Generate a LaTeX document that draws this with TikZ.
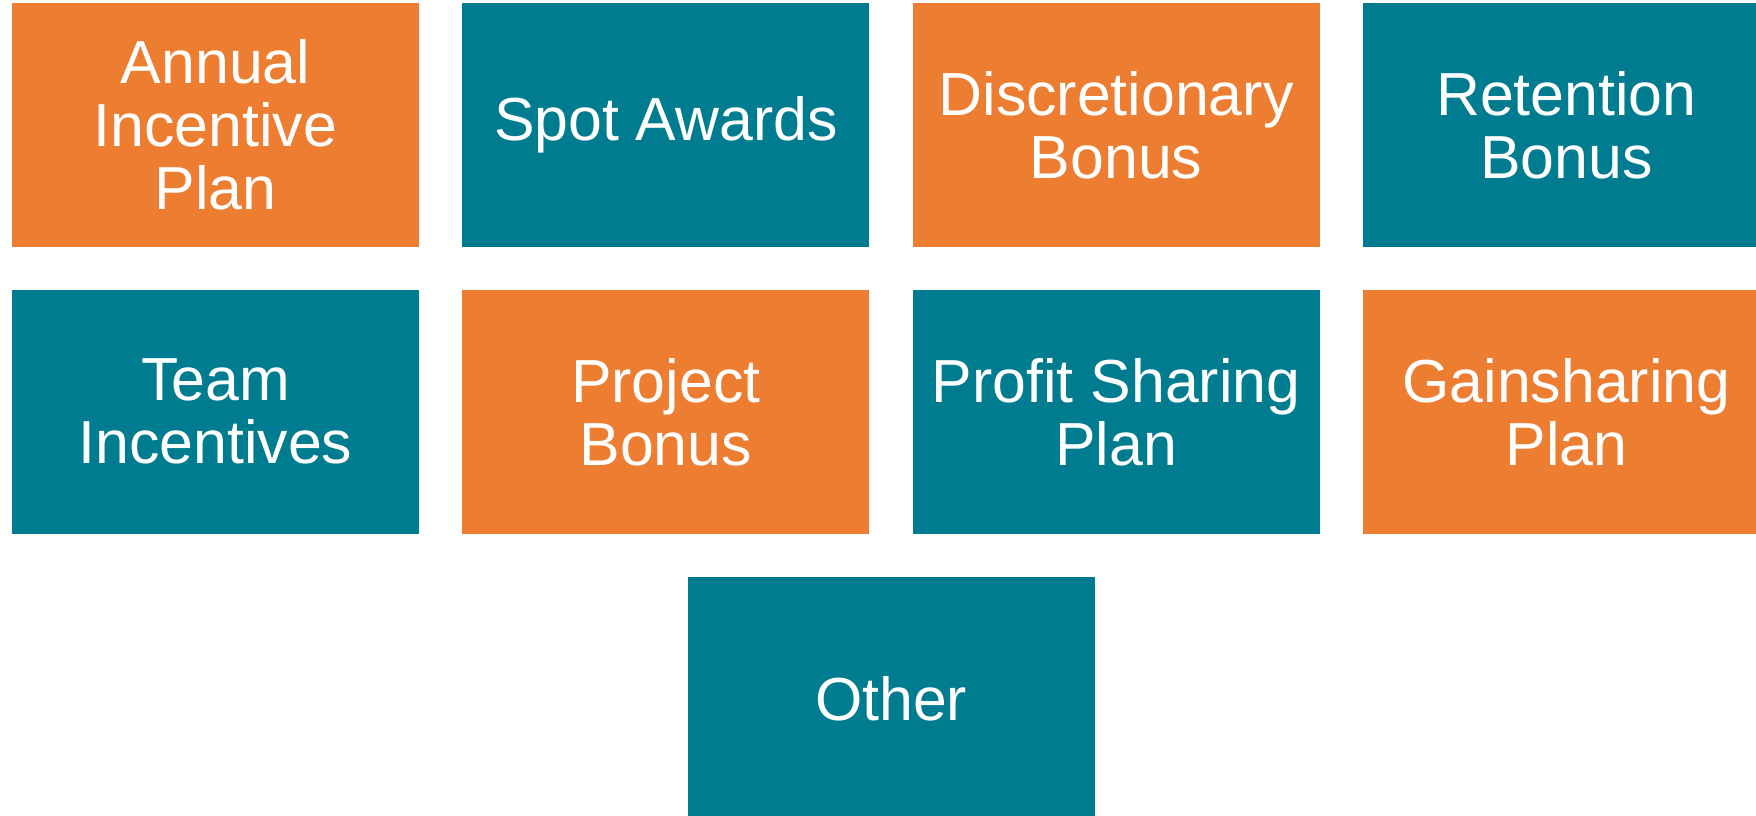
\documentclass[tikz,border=0pt]{standalone}
\usepackage{fontspec}
\setmainfont{Liberation Sans}
\usepackage{tikz}
\usetikzlibrary{positioning}
\definecolor{borange}{RGB}{237,125,49}
\definecolor{bteal}{RGB}{0,124,145}

\begin{document}
\begin{tikzpicture}[x=1pt,
                    y=1pt,
                    node distance=43.3pt,
                    box/.style={rectangle,minimum width=407pt,minimum height=243.5pt,inner sep=0pt,outer sep=0pt,
                                align=center,text=white,font=\fontsize{60.8}{63}\selectfont},
                    obox/.style={box,fill=borange},
                    tbox/.style={box,fill=bteal}
                    ]
  \useasboundingbox (0,0) rectangle (1756,-815);
  % first row
  \node[obox] (1) [anchor=north west] at (12,-3.3) {Annual\\Incentive\\Plan};
  \node[tbox] (2) [right=of 1] {Spot Awards};
  \node[obox] (3) [right=of 2] {Discretionary\\Bonus};
  \node[tbox] (4) [right=of 3] {Retention\\Bonus};
  % second row
  \node[tbox] (5) [below=of 1] {Team\\Incentives};
  \node[obox] (6) [right=of 5] {Project\\Bonus};
  \node[tbox] (7) [right=of 6] {Profit Sharing\\Plan};
  \node[obox] (8) [right=of 7] {Gainsharing\\Plan};
  % last row
  \node[tbox] (9) [below=of 6.south east, xshift=21.75pt] {Other};
\end{tikzpicture}
\end{document}
